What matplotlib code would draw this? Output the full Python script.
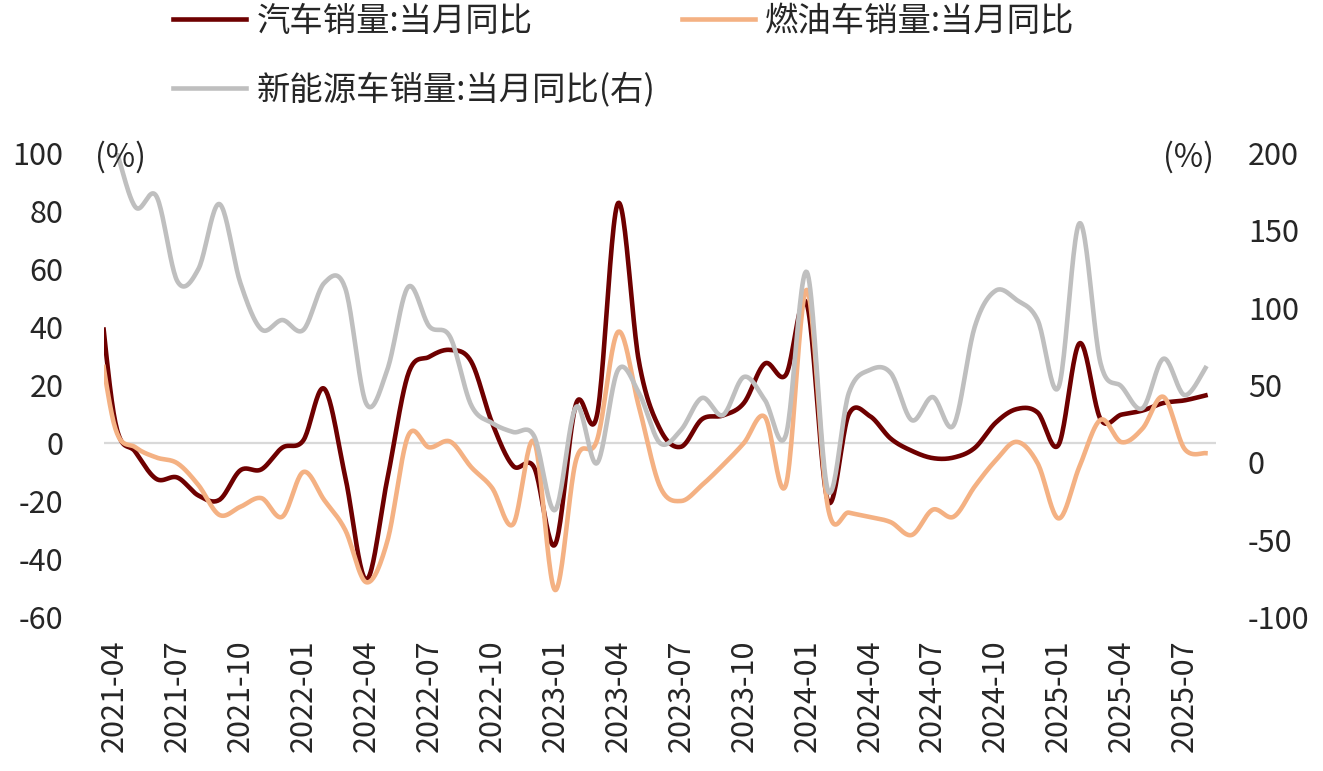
import numpy as np
import pandas as pd
import matplotlib
matplotlib.use("Agg")
import matplotlib.pyplot as plt

plt.rcParams['font.family'] = ['Noto Sans CJK SC', 'DejaVu Sans']
plt.rcParams['axes.unicode_minus'] = False

# 月份: 2021-03 ~ 2025-08 (2021-03 落在绘图区左边界之外, 只露出线头)
months = pd.period_range('2021-03', '2025-08', freq='M').strftime('%Y-%m').tolist()

# 汽车销量:当月同比 (%)
total_yoy = [74.9, 8.6, -3.1, -12.4, -11.9, -18.1, -19.6, -9.4, -9.1, -1.6,
             0.9, 18.7, -11.7, -47.1, -12.6, 23.8, 29.7, 32.1, 28.1, 6.9, -7.9, -8.4,
             -35.0, 13.5, 9.7, 82.7, 27.9, 4.8, -1.3, 8.2, 9.5, 13.8, 27.4, 23.5,
             47.9, -19.9, 9.9, 9.3, 1.5, -2.7, -5.2, -5.0, -1.7, 7.0, 11.7, 10.5,
             -0.6, 34.4, 8.2, 9.8, 11.2, 13.8, 14.7, 16.4]

# 燃油车销量:当月同比 (%)
fuel_yoy = [50.0, 6.0, -1.5, -5.0, -7.0, -14.5, -24.8, -22.0, -19.0, -25.4,
            -10.0, -19.7, -30.0, -48.0, -34.0, 2.5, -1.5, 0.5, -8.3, -15.5, -28.0, 0.5,
            -50.7, -5.9, 1.0, 38.3, 12.4, -15.0, -20.0, -14.5, -7.6, 0.0, 9.0, -14.5,
            52.8, -22.0, -24.0, -25.5, -27.3, -31.7, -23.0, -25.4, -15.0, -6.0, 0.4, -7.0,
            -26.0, -8.0, 8.0, 0.3, 5.0, 15.9, -2.0, -3.5]

# 新能源车销量:当月同比 (%), 右轴
nev_yoy = [240.0, 205.0, 165.0, 172.0, 117.0, 125.0, 167.0, 116.0, 86.0, 92.0,
           85.6, 116.0, 112.5, 38.0, 59.7, 113.4, 88.0, 81.0, 37.0, 25.4, 19.6, 17.0,
           -30.8, 35.8, -0.5, 59.7, 44.8, 12.5, 20.9, 41.6, 30.6, 55.2, 40.3, 17.6,
           123.0, -17.9, 44.8, 59.7, 57.7, 27.3, 42.2, 24.1, 87.5, 111.0, 105.0, 92.0,
           48.7, 154.6, 64.0, 49.0, 35.0, 67.0, 43.5, 61.0]

x = np.arange(len(months)) - 1   # 2021-04 -> 0


def smooth(xv, yv, n=24):
    # Excel 平滑线: 贝塞尔, 控制点取相邻点差的 1/6
    xv = np.asarray(xv, float)
    yv = np.asarray(yv, float)
    px = np.concatenate([[xv[0]], xv, [xv[-1]]])
    py = np.concatenate([[yv[0]], yv, [yv[-1]]])
    t = np.linspace(0, 1, n, endpoint=False)[:, None]
    out = []
    for i in range(1, len(xv)):
        p0 = np.array([px[i - 1], py[i - 1]])
        p1 = np.array([px[i], py[i]])
        p2 = np.array([px[i + 1], py[i + 1]])
        p3 = np.array([px[i + 2], py[i + 2]])
        c1 = p1 + (p2 - p0) / 6
        c2 = p2 - (p3 - p1) / 6
        seg = ((1 - t) ** 3) * p1 + 3 * ((1 - t) ** 2) * t * c1 + 3 * (1 - t) * t ** 2 * c2 + t ** 3 * p2
        out.append(seg)
    out.append(np.array([[xv[-1], yv[-1]]]))
    out = np.vstack(out)
    return out[:, 0], out[:, 1]


c_total = '#6E0000'
c_fuel = '#F4B183'
c_nev = '#BFBFBF'
txt = '#262626'

fig = plt.figure(figsize=(13.23, 7.71), dpi=100)
ax = fig.add_axes([0.0786, 0.1997, 0.8405, 0.6019])
ax2 = ax.twinx()

ax.axhline(0, color='#D9D9D9', lw=1.6, zorder=1)

sx, sy = smooth(x, total_yoy)
l1, = ax.plot(sx, sy, color=c_total, lw=3.3, label='汽车销量:当月同比', zorder=3)
sx, sy = smooth(x, fuel_yoy)
l2, = ax.plot(sx, sy, color=c_fuel, lw=3.3, label='燃油车销量:当月同比', zorder=4)
sx, sy = smooth(x, nev_yoy)
l3, = ax2.plot(sx, sy, color=c_nev, lw=3.3, label='新能源车销量:当月同比(右)')

ax.set_xlim(-0.5, len(months) - 1.5)
ax.set_ylim(-60, 100)
ax2.set_ylim(-100, 200)
ax.set_yticks(range(-60, 101, 20))
ax2.set_yticks(range(-100, 201, 50))

ticks = list(range(0, len(months) - 1, 3))
ax.set_xticks(ticks)
ax.set_xticklabels([months[i + 1] for i in ticks], rotation=90)

for a in (ax, ax2):
    for s in a.spines.values():
        s.set_visible(False)
    a.tick_params(length=0, labelsize=22, colors=txt)
ax.tick_params(axis='y', pad=29)
ax2.tick_params(axis='y', pad=23)
ax.tick_params(axis='x', pad=16)

fig.text(95 / 1323, 1 - 157 / 771, '(%)', fontsize=23, color=txt, va='center', ha='left')
fig.text(1163 / 1323, 1 - 157 / 771, '(%)', fontsize=23, color=txt, va='center', ha='left')

fig.legend(handles=[l1, l3, l2], ncol=2, loc='upper left',
           bbox_to_anchor=(173 / 1323, 1 - 4 / 771), frameon=False,
           fontsize=24, labelcolor=txt, handlelength=2.2, handletextpad=0.3,
           columnspacing=0.8, labelspacing=1.0, borderaxespad=0, borderpad=0)

fig.savefig('out.png', dpi=100)
